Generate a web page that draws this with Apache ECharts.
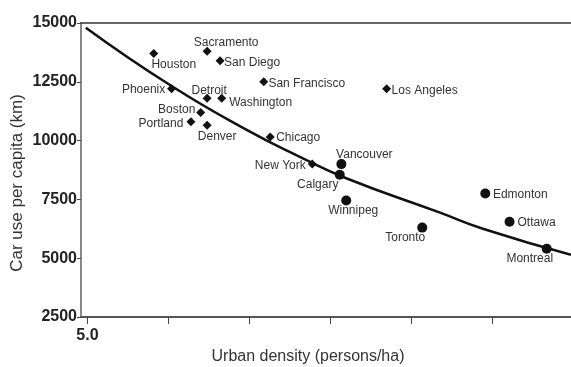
<!DOCTYPE html>
<html>
<head>
<meta charset="utf-8">
<script src="https://cdn.jsdelivr.net/npm/echarts@6/dist/echarts.min.js"></script>
<style>
  html, body { margin: 0; padding: 0; background: #fff; }
  #chart { width: 571px; height: 367px; }
</style>
</head>
<body>
<div id="chart"></div>
<script>
// US cities: urban density (persons/ha) and car use per capita (km)
const usCities   = ['Houston', 'Sacramento', 'San Diego', 'Phoenix', 'Detroit', 'Washington', 'Boston', 'Portland', 'Denver', 'San Francisco', 'Los Angeles', 'Chicago', 'New York'];
const usDensity  = [9.1, 12.4, 13.2, 10.2, 12.4, 13.3, 12.0, 11.4, 12.4, 15.9, 23.5, 16.3, 18.9];
const usCarUse   = [13700, 13800, 13400, 12200, 11800, 11800, 11200, 10800, 10650, 12500, 12200, 10150, 9000];

// Canadian cities
const caCities   = ['Vancouver', 'Calgary', 'Winnipeg', 'Toronto', 'Edmonton', 'Ottawa', 'Montreal'];
const caDensity  = [20.7, 20.6, 21.0, 25.7, 29.6, 31.1, 33.4];
const caCarUse   = [9000, 8550, 7450, 6300, 7750, 6550, 5400];

// Fitted trend curve
const trendDensity = [4.9, 10.2, 15.05, 18.1, 21.0, 26.8, 29.5, 34.9];
const trendCarUse  = [14800, 12320, 10380, 9320, 8400, 6935, 6240, 5140];

// Axis ticks
const xTickValues  = [5, 10, 15, 20, 25, 30];
const xLabelValues = [5];
const yTicks       = [2500, 5000, 7500, 10000, 12500, 15000];

// Axis titles
const xTitle = 'Urban density (persons/ha)';
const yTitle = 'Car use per capita (km)';

// Label placement (pixel offsets from each marker centre)
const labelOffsets = {
  'Houston': [20, 11], 'Sacramento': [19, -9], 'San Diego': [32, 2], 'Phoenix': [-28, 1],
  'Detroit': [2, -8], 'Washington': [39, 4], 'Boston': [-24, -3], 'Portland': [-30, 2],
  'Denver': [10, 11], 'San Francisco': [43, 2], 'Los Angeles': [38, 2], 'Chicago': [28, 1],
  'New York': [-32, 2], 'Vancouver': [23, -9], 'Calgary': [-22, 10], 'Winnipeg': [7, 10],
  'Toronto': [-17, 10], 'Edmonton': [35, 1], 'Ottawa': [27, 1], 'Montreal': [-17, 10]
};

const FONT = '"Liberation Sans", Arial, sans-serif';

function points(names, xs, ys) {
  return names.map((n, i) => ({
    name: n,
    value: [xs[i], ys[i]],
    label: { offset: labelOffsets[n] }
  }));
}

const cityLabel = {
  show: true,
  position: 'inside',
  formatter: '{b}',
  color: '#333',
  fontSize: 12,
  fontFamily: FONT
};

const chart = echarts.init(document.getElementById('chart'), null, { renderer: 'canvas' });

chart.setOption({
  animation: false,
  backgroundColor: '#fff',
  grid: { left: 81, right: 0, top: 23, bottom: 50, outerBoundsMode: 'none', containLabel: false },
  xAxis: [{
    type: 'value',
    min: 4.6,
    max: 34.9,
    splitLine: { show: false },
    axisLine: { show: true, lineStyle: { color: '#555', width: 2 } },
    axisTick: { show: true, customValues: xTickValues, length: 7, lineStyle: { color: '#444', width: 1 } },
    axisLabel: {
      customValues: xLabelValues,
      formatter: v => v.toFixed(1),
      margin: 11,
      color: '#222',
      fontSize: 16,
      fontWeight: 'bold',
      fontFamily: FONT
    }
  }, {
    type: 'value',
    position: 'top',
    min: 4.6,
    max: 34.9,
    splitLine: { show: false },
    axisLine: { show: true, lineStyle: { color: '#333', width: 1.5 } },
    axisTick: { show: false },
    axisLabel: { show: false }
  }],
  yAxis: {
    type: 'value',
    min: yTicks[0],
    max: yTicks[yTicks.length - 1],
    interval: 2500,
    splitLine: { show: false },
    axisLine: { show: true, lineStyle: { color: '#888', width: 2 } },
    axisTick: { show: true, length: 4, lineStyle: { color: '#444', width: 1 } },
    axisLabel: {
      margin: 4,
      formatter: v => String(v),
      color: '#222',
      fontSize: 16,
      fontWeight: 'bold',
      fontFamily: FONT
    }
  },
  graphic: [{
    type: 'text',
    x: 308,
    y: 357,
    style: {
      text: xTitle,
      fill: '#333',
      font: '16px ' + FONT,
      align: 'center',
      verticalAlign: 'middle'
    }
  }, {
    type: 'text',
    x: 17,
    y: 183,
    rotation: Math.PI / 2,
    style: {
      text: yTitle,
      fill: '#333',
      font: '17px ' + FONT,
      align: 'center',
      verticalAlign: 'middle'
    }
  }],
  series: [{
    name: 'Trend',
    type: 'line',
    data: trendDensity.map((x, i) => [x, trendCarUse[i]]),
    smooth: true,
    showSymbol: false,
    lineStyle: { color: '#111', width: 2.5 },
    z: 2
  }, {
    name: 'US',
    type: 'scatter',
    symbol: 'diamond',
    symbolSize: 9,
    itemStyle: { color: '#111', opacity: 1 },
    data: points(usCities, usDensity, usCarUse),
    label: cityLabel,
    z: 3
  }, {
    name: 'Canada',
    type: 'scatter',
    symbol: 'circle',
    symbolSize: 10,
    itemStyle: { color: '#111', opacity: 1 },
    data: points(caCities, caDensity, caCarUse),
    label: cityLabel,
    z: 3
  }]
});
</script>
</body>
</html>
